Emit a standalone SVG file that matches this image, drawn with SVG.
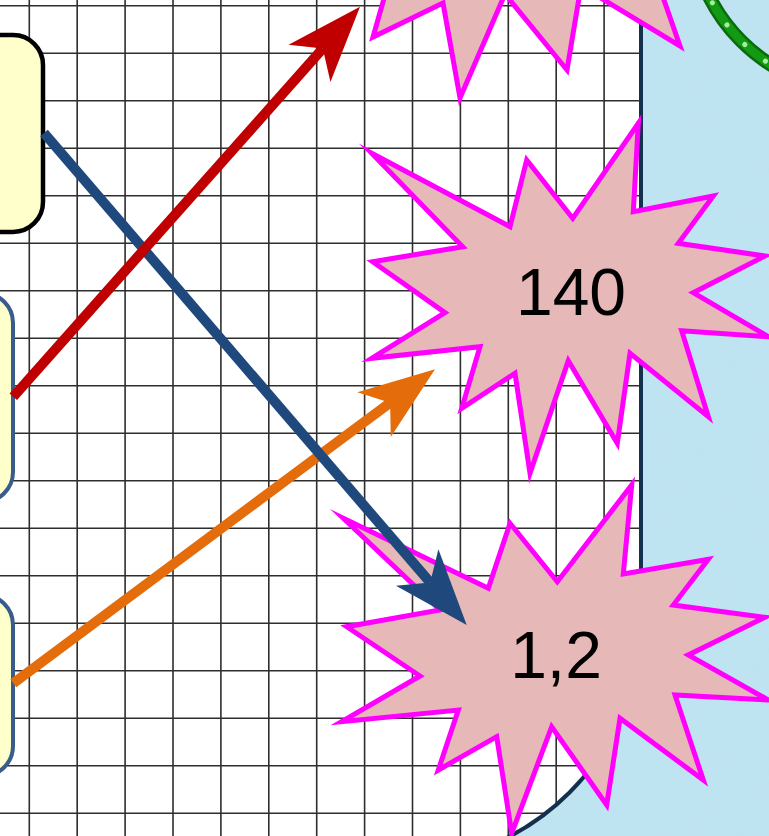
<svg xmlns="http://www.w3.org/2000/svg" width="769" height="836" viewBox="0 0 769 836">
<defs>
<style>
.grid{stroke:#2e2e2e;stroke-width:1.6;fill:none}
.box{fill:#FFFFCC}
.star{fill:#E6B8B7;stroke:#FF00FF;stroke-width:5;stroke-linejoin:miter;stroke-miterlimit:20}
.lbl{font-family:"Liberation Sans",Arial,sans-serif;font-size:66px;fill:#000;text-anchor:middle}
.arr{fill:none;stroke-width:10;stroke-linecap:butt}
</style>
<filter id="tex" x="0" y="0" width="100%" height="100%">
<feTurbulence type="fractalNoise" baseFrequency="0.035" numOctaves="3" seed="4"/>
<feColorMatrix type="matrix" values="0 0 0 0 0.55  0 0 0 0 0.78  0 0 0 0 0.88  0 0 0 0.35 0"/>
</filter>
<clipPath id="paper"><path d="M-10,-10 H642 V620 A245,245 0 0 1 397,865 H-10 Z"/></clipPath>
<marker id="hNavy" markerUnits="userSpaceOnUse" viewBox="-80 -32 84 64" markerWidth="84" markerHeight="64" refX="-56" refY="0" orient="auto"><path d="M0,0 L-76,-28 L-56,0 L-76,28 Z" fill="#1F497D"/></marker>
<marker id="hRed" markerUnits="userSpaceOnUse" viewBox="-80 -32 84 64" markerWidth="84" markerHeight="64" refX="-56" refY="0" orient="auto"><path d="M0,0 L-76,-28 L-56,0 L-76,28 Z" fill="#C00000"/></marker>
<marker id="hOrange" markerUnits="userSpaceOnUse" viewBox="-80 -32 84 64" markerWidth="84" markerHeight="64" refX="-56" refY="0" orient="auto"><path d="M0,0 L-76,-28 L-56,0 L-76,28 Z" fill="#E46C0A"/></marker>
</defs>

<g id="background">
<rect x="0" y="0" width="769" height="836" fill="#BEE3F1"/>
<rect x="0" y="0" width="769" height="836" filter="url(#tex)" opacity="0.6"/>
<g id="green-ring" fill="none">
<circle cx="862" cy="-80" r="171" stroke="#0B6A0B" stroke-width="14"/>
<circle cx="862" cy="-80" r="171" stroke="#129A12" stroke-width="9"/>
<circle cx="862" cy="-80" r="171" stroke="#A6EE9E" stroke-width="5" stroke-linecap="round" stroke-dasharray="0.1 26.4"/>
</g>
</g>

<g id="paper-sheet">
<path d="M-10,-10 H642 V620 A245,245 0 0 1 397,865 H-10 Z" fill="#FFFFFF"/>
<path class="grid" clip-path="url(#paper)" d="M29.3,0V836 M77.2,0V836 M125.1,0V836 M173,0V836 M220.9,0V836 M268.8,0V836 M316.7,0V836 M364.6,0V836 M412.5,0V836 M460.4,0V836 M508.3,0V836 M556.2,0V836 M604.1,0V836 M0,5.7H642 M0,53.2H642 M0,100.7H642 M0,148.2H642 M0,195.7H642 M0,243.2H642 M0,290.7H642 M0,338.2H642 M0,385.7H642 M0,433.2H642 M0,480.7H642 M0,528.2H642 M0,575.7H642 M0,623.2H642 M0,670.7H642 M0,718.2H642 M0,765.7H642 M0,813.2H642"/>
<path d="M641,-10 V620 A244,244 0 0 1 397,864" fill="none" stroke="#14304F" stroke-width="4"/>
</g>

<g id="box-1"><rect class="box" x="-40" y="35" width="83" height="197" rx="30" ry="30" stroke="#000" stroke-width="4.5"/></g>
<g id="box-2"><rect class="box" x="-60" y="293" width="73" height="209" rx="30" ry="30" stroke="#385D8A" stroke-width="4"/></g>
<g id="box-3"><rect class="box" x="-60" y="595" width="73" height="181" rx="30" ry="30" stroke="#385D8A" stroke-width="4"/></g>

<g id="star-1"><polygon class="star" points="395,-40 373,37 443,3 460,98 505,-6 567,70 581,-14 680,46 650,-40"/></g>

<g id="star-140">
<polygon class="star" points="371.7,153.3 510,226.7 526.7,160 572.7,218.3 638.3,123.3 633.3,211.7 713.3,196 678.3,243.3 765,256 693.3,292.7 768.3,336.7 681.7,330.7 708.3,416.7 630,353.3 617.3,443.3 568.3,360.7 530,473.3 515,373.3 461.7,408.3 480,346.7 371.7,358.3 445,312.7 372.7,261.7 462.7,246.7"/>
<text class="lbl" x="571" y="315">140</text>
</g>

<g id="star-12">
<polygon class="star" points="343.3,518.3 488.3,588.3 510,523.3 557.3,581.7 631.7,485 623.3,574 708.3,559.3 673.3,605 765,617.3 688.3,655 768.3,700 675,695 703.3,780 620,718.3 606.7,805 551.7,726.7 511.7,833.3 496.7,736.7 438.3,770 458.3,710 341.7,721.7 420,676 346.7,626.7 440,610"/>
<text class="lbl" x="556" y="678">1,2</text>
</g>

<g id="connectors">
<path class="arr" d="M13.3,683.3 L390.1,402.7" stroke="#E46C0A" marker-end="url(#hOrange)"/>
<path class="arr" d="M44,133 L430.2,582.6" stroke="#1F497D" marker-end="url(#hNavy)"/>
<path class="arr" d="M13.3,396.7 L322.8,48.5" stroke="#C00000" marker-end="url(#hRed)"/>
</g>
</svg>
